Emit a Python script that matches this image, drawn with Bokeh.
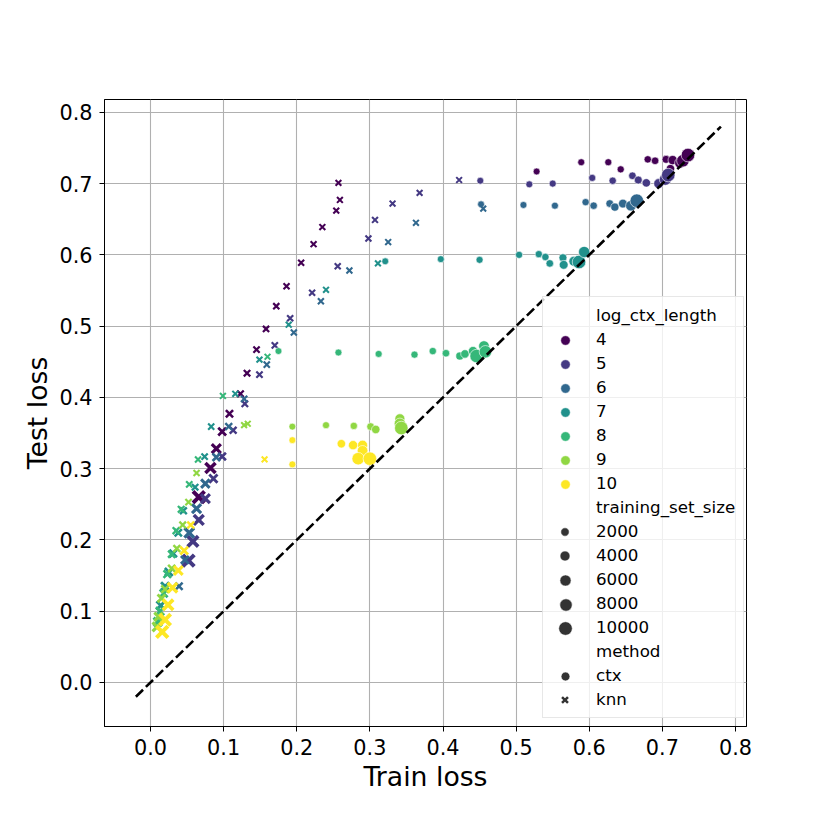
import math
from bokeh.plotting import figure
from bokeh.models import ColumnDataSource, Legend, LegendItem, Range1d, PrintfTickFormatter
from bokeh.embed import file_html
from bokeh.resources import INLINE

# ---------------- data ----------------
ctx_levels = [4, 5, 6, 7, 8, 9, 10]
palette = ["#440154", "#443983", "#31688e", "#21918c", "#35b779", "#90d743", "#fde725"]

ctx4_train = [0.528, 0.589, 0.626, 0.643, 0.680, 0.690, 0.705, 0.711, 0.714, 0.724, 0.728, 0.735]
ctx4_test = [0.717, 0.730, 0.730, 0.720, 0.734, 0.732, 0.734, 0.721, 0.733, 0.729, 0.732, 0.740]
ctx4_size = [300, 400, 500, 600, 800, 1000, 1500, 2000, 3000, 5000, 8000, 10000]

ctx5_train = [0.451, 0.518, 0.550, 0.604, 0.632, 0.659, 0.667, 0.678, 0.695, 0.704, 0.708]
ctx5_test = [0.704, 0.699, 0.700, 0.708, 0.704, 0.711, 0.705, 0.701, 0.700, 0.706, 0.712]
ctx5_size = [300, 400, 500, 600, 800, 1000, 1500, 2000, 4000, 7000, 10000]

ctx6_train = [0.452, 0.510, 0.553, 0.595, 0.606, 0.628, 0.635, 0.646, 0.657, 0.665]
ctx6_test = [0.671, 0.670, 0.669, 0.674, 0.669, 0.672, 0.667, 0.672, 0.669, 0.676]
ctx6_size = [300, 400, 500, 700, 900, 1200, 1600, 2500, 5000, 10000]

ctx7_train = [0.321, 0.397, 0.450, 0.504, 0.531, 0.540, 0.546, 0.564, 0.565, 0.579, 0.586, 0.593]
ctx7_test = [0.591, 0.594, 0.593, 0.600, 0.601, 0.597, 0.588, 0.596, 0.586, 0.591, 0.590, 0.604]
ctx7_size = [300, 400, 500, 600, 700, 800, 1000, 1500, 2500, 4000, 10000, 6000]

ctx8_train = [0.175, 0.257, 0.312, 0.361, 0.386, 0.404, 0.423, 0.430, 0.441, 0.446, 0.456, 0.458]
ctx8_test = [0.465, 0.463, 0.461, 0.460, 0.465, 0.462, 0.458, 0.461, 0.465, 0.458, 0.472, 0.464]
ctx8_size = [300, 400, 500, 600, 800, 1000, 1500, 2000, 3000, 10000, 5000, 8000]

ctx9_train = [0.194, 0.240, 0.278, 0.301, 0.308, 0.341, 0.341, 0.343]
ctx9_test = [0.359, 0.361, 0.360, 0.359, 0.355, 0.370, 0.363, 0.357]
ctx9_size = [300, 500, 800, 1200, 2000, 4000, 6000, 10000]

ctx10_train = [0.194, 0.194, 0.261, 0.277, 0.290, 0.290, 0.284, 0.300]
ctx10_test = [0.340, 0.306, 0.335, 0.333, 0.333, 0.325, 0.314, 0.314]
ctx10_size = [300, 400, 2000, 3000, 4000, 5000, 8000, 10000]

knn4_train = [0.257, 0.259, 0.254, 0.235, 0.223, 0.206, 0.186, 0.172, 0.158, 0.145, 0.132, 0.123, 0.108, 0.098, 0.090, 0.082, 0.066]
knn4_test = [0.701, 0.677, 0.662, 0.639, 0.615, 0.589, 0.556, 0.528, 0.496, 0.467, 0.434, 0.405, 0.377, 0.352, 0.328, 0.301, 0.260]
knn4_size = [200, 250, 300, 350, 400, 450, 500, 600, 700, 800, 1000, 1200, 2000, 3000, 5000, 7000, 10000]

knn5_train = [0.422, 0.368, 0.331, 0.307, 0.298, 0.256, 0.221, 0.191, 0.170, 0.149, 0.129, 0.113, 0.098, 0.086, 0.075, 0.066, 0.058, 0.052]
knn5_test = [0.705, 0.687, 0.672, 0.649, 0.623, 0.584, 0.547, 0.511, 0.473, 0.432, 0.391, 0.354, 0.317, 0.286, 0.258, 0.228, 0.198, 0.171]
knn5_size = [200, 250, 300, 350, 400, 450, 500, 600, 700, 800, 1000, 1500, 2500, 3500, 5000, 6500, 8000, 10000]

knn6_train = [0.455, 0.363, 0.325, 0.272, 0.233, 0.196, 0.159, 0.128, 0.107, 0.090, 0.075, 0.063, 0.053, 0.047, 0.039]
knn6_test = [0.665, 0.645, 0.618, 0.578, 0.535, 0.491, 0.446, 0.398, 0.359, 0.316, 0.279, 0.244, 0.210, 0.172, 0.135]
knn6_size = [200, 250, 300, 350, 400, 500, 600, 800, 1500, 2500, 4000, 5000, 6000, 3000, 2000]

knn7_train = [0.311, 0.240, 0.189, 0.149, 0.116, 0.083, 0.074, 0.061, 0.045, 0.038, 0.031, 0.025, 0.020, 0.014]
knn7_test = [0.588, 0.551, 0.502, 0.453, 0.405, 0.359, 0.317, 0.274, 0.241, 0.210, 0.181, 0.155, 0.135, 0.108]
knn7_size = [200, 250, 300, 350, 400, 600, 800, 1000, 1500, 2000, 2500, 3000, 3500, 4000]

knn8_train = [0.160, 0.099, 0.065, 0.053, 0.042, 0.035, 0.029, 0.023, 0.018, 0.013, 0.010]
knn8_test = [0.457, 0.402, 0.313, 0.278, 0.243, 0.213, 0.180, 0.152, 0.125, 0.100, 0.085]
knn8_size = [200, 300, 500, 800, 1200, 1500, 2000, 2500, 3000, 3500, 4000]

knn9_train = [0.133, 0.128, 0.063, 0.052, 0.044, 0.036, 0.029, 0.020, 0.015, 0.011, 0.009]
knn9_test = [0.363, 0.361, 0.294, 0.253, 0.221, 0.188, 0.160, 0.131, 0.118, 0.092, 0.078]
knn9_size = [200, 250, 500, 800, 1200, 1500, 2000, 2500, 3000, 4000, 5000]

knn10_train = [0.156, 0.055, 0.046, 0.038, 0.030, 0.024, 0.020, 0.016]
knn10_test = [0.313, 0.221, 0.185, 0.157, 0.133, 0.109, 0.088, 0.071]
knn10_size = [200, 1500, 3000, 4500, 6000, 7500, 9000, 10000]

size_legend_values = [2000, 4000, 6000, 8000, 10000]
method_names = ["ctx", "knn"]
x_ticks = [0.0, 0.1, 0.2, 0.3, 0.4, 0.5, 0.6, 0.7, 0.8]
y_ticks = [0.0, 0.1, 0.2, 0.3, 0.4, 0.5, 0.6, 0.7, 0.8]
diag = [-0.02, 0.78]

ctx_series = [
    (ctx4_train, ctx4_test, ctx4_size), (ctx5_train, ctx5_test, ctx5_size),
    (ctx6_train, ctx6_test, ctx6_size), (ctx7_train, ctx7_test, ctx7_size),
    (ctx8_train, ctx8_test, ctx8_size), (ctx9_train, ctx9_test, ctx9_size),
    (ctx10_train, ctx10_test, ctx10_size),
]
knn_series = [
    (knn4_train, knn4_test, knn4_size), (knn5_train, knn5_test, knn5_size),
    (knn6_train, knn6_test, knn6_size), (knn7_train, knn7_test, knn7_size),
    (knn8_train, knn8_test, knn8_size), (knn9_train, knn9_test, knn9_size),
    (knn10_train, knn10_test, knn10_size),
]

all_sizes = [s for ser in ctx_series + knn_series for s in ser[2]]
smin, smax = min(all_sizes), max(all_sizes)


def diam(s):
    # seaborn-like area scaling converted to px
    return 1.15 * 100 / 72 * math.sqrt(18 + 54 * (s - smin) / (smax - smin))


FONT = "DejaVu Sans"
NAN = float("nan")

p = figure(width=822, height=822,
           x_range=Range1d(-0.0629, 0.815), y_range=Range1d(-0.0618, 0.818),
           output_backend="svg", toolbar_location=None,
           min_border_left=104, min_border_right=76, min_border_top=99, min_border_bottom=96)
p.background_fill_color = "white"
p.border_fill_color = "white"
p.outline_line_color = "black"
p.outline_line_width = 1

p.xaxis.ticker = x_ticks
p.yaxis.ticker = y_ticks
for ax in (p.xaxis, p.yaxis):
    ax.formatter = PrintfTickFormatter(format="%.1f")
    ax.major_label_text_font = FONT
    ax.major_label_text_font_size = "20.8px"
    ax.major_label_text_color = "black"
    ax.axis_label_text_font = FONT
    ax.axis_label_text_font_size = "26.7px"
    ax.axis_label_text_font_style = "normal"
    ax.axis_label_text_color = "black"
    ax.major_tick_out = 5
    ax.major_tick_in = 0
    ax.major_tick_line_color = "black"
    ax.minor_tick_line_color = None
    ax.axis_line_color = "black"
    ax.major_label_standoff = 7
    ax.axis_label_standoff = 3
p.xaxis.axis_label = "Train loss"
p.yaxis.axis_label = "Test loss"
p.grid.grid_line_color = "#b0b0b0"
p.grid.grid_line_width = 1.1

for col, (ctr, cte, csz), (ktr, kte, ksz) in zip(palette, ctx_series, knn_series):
    src_c = ColumnDataSource(dict(x=ctr, y=cte, d=[diam(s) for s in csz]))
    p.scatter("x", "y", source=src_c, marker="circle", size="d",
              fill_color=col, line_color="white", line_width=0.6)
    kd = [diam(s) for s in ksz]
    src_k = ColumnDataSource(dict(x=ktr, y=kte, d=[v * 1.2 for v in kd],
                                  lw=[v * 0.3 for v in kd]))
    p.scatter("x", "y", source=src_k, marker="x", size="d",
              line_color=col, line_width="lw")

p.line(diag, diag, line_color="black", line_width=2.6, line_dash="10 4")

# ---------------- legend ----------------
# main legend: frame + labels (glyphs drawn by per-row glyph legends below)
blank = p.scatter(x=[NAN], y=[NAN], marker="circle", size=1, fill_alpha=0, line_alpha=0)
labels = (["log_ctx_length"] + [str(v) for v in ctx_levels] + ["training_set_size"]
          + [str(v) for v in size_legend_values] + ["method"] + method_names)
items = [LegendItem(label=t, renderers=[blank]) for t in labels]

PAD, ROW, SPACING, GW = 8, 20, 4, 30
LOC_X, LOC_Y = 438, 8
legend = Legend(items=items, location=(LOC_X, LOC_Y), margin=0, padding=PAD, spacing=SPACING,
                label_height=ROW, glyph_height=ROW, glyph_width=GW, label_standoff=15,
                label_text_font=FONT, label_text_font_size="16.7px",
                label_text_color="black",
                border_line_color="#d0d0d0", border_line_width=1,
                background_fill_color="white", background_fill_alpha=0.8)
p.add_layout(legend)

n_rows = len(labels)
total_h = 2 * PAD + n_rows * ROW + (n_rows - 1) * SPACING
glyph_cx = LOC_X + PAD + GW / 2


def row_cy(i):
    return LOC_Y + total_h - PAD - ROW / 2 - i * (ROW + SPACING)


glyph_rows = []  # (row index, marker, size px, color, line width)
for k, col in enumerate(palette):
    glyph_rows.append((1 + k, "circle", 9.5, col, 0.6))
for k, s in enumerate(size_legend_values):
    glyph_rows.append((9 + k, "circle", diam(s), "#333333", 0.6))
glyph_rows.append((15, "circle", 9.0, "#333333", 0.6))
glyph_rows.append((16, "x", 8.5, "#333333", 2.5))

for idx, marker, sz, col, lw in glyph_rows:
    box = int(round(sz / 0.4))
    if marker == "x":
        r = p.scatter(x=[NAN], y=[NAN], marker="x", line_color=col, line_width=lw)
    else:
        r = p.scatter(x=[NAN], y=[NAN], marker="circle", fill_color=col,
                      line_color="white", line_width=lw)
    g = Legend(items=[LegendItem(label=" ", renderers=[r])],
               location=(round(glyph_cx - box / 2), round(row_cy(idx) - box / 2)),
               margin=0, padding=0, spacing=0, label_standoff=0, label_width=0,
               label_height=box, glyph_height=box, glyph_width=box,
               label_text_font_size="1px", border_line_color=None,
               background_fill_alpha=0)
    p.add_layout(g)

open("out.html", "w").write(file_html(p, INLINE))
